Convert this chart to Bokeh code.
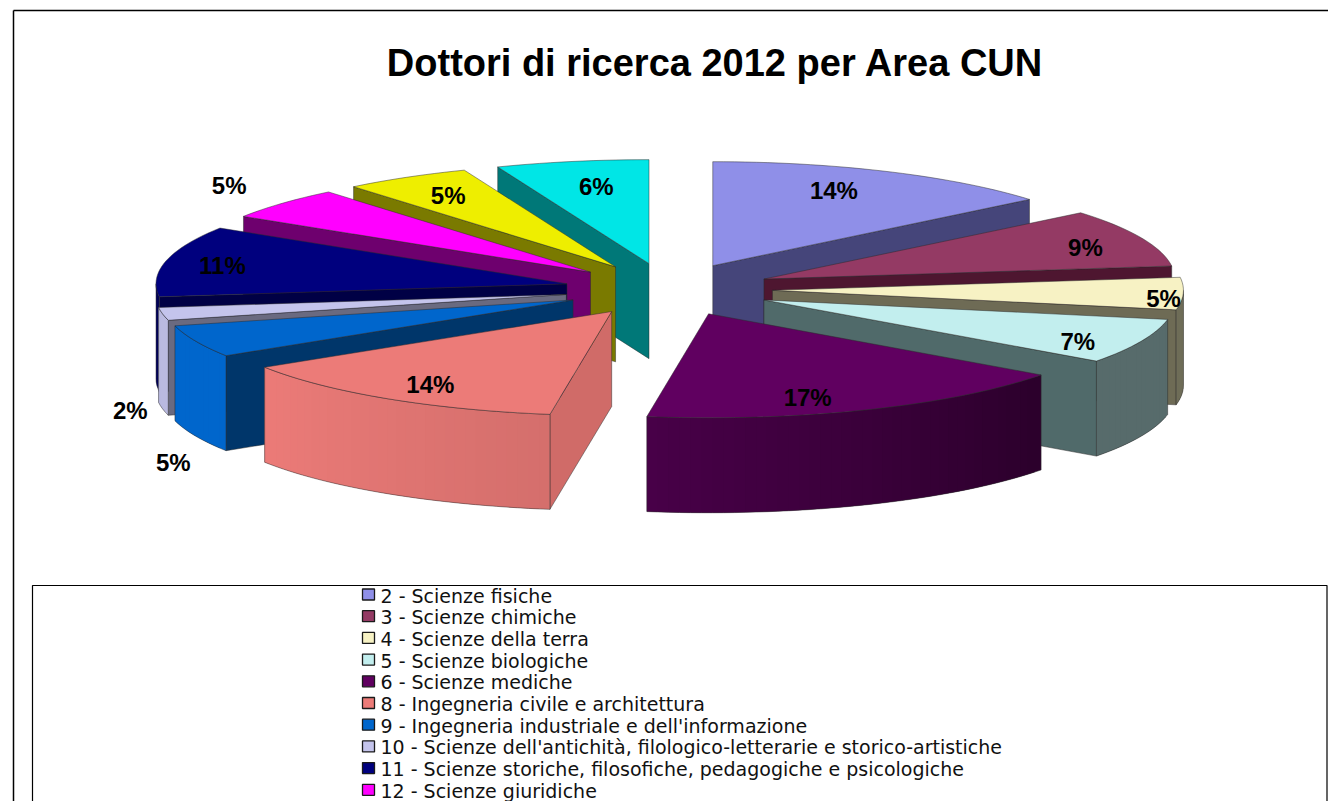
import numpy as np
from bokeh.plotting import figure
from bokeh.models import Range1d, ColumnDataSource
from bokeh.embed import file_html
from bokeh.resources import INLINE
from bokeh.core.properties import value

# ---------------- data ----------------
TITLE = "Dottori di ricerca 2012  per Area CUN"
CATEGORIES = [
    "2 - Scienze fisiche",
    "3 - Scienze chimiche",
    "4 - Scienze della terra",
    "5 - Scienze biologiche",
    "6 - Scienze mediche",
    "8 - Ingegneria civile e architettura",
    "9 - Ingegneria industriale e dell'informazione",
    "10 - Scienze dell'antichità, filologico-letterarie e storico-artistiche",
    "11 - Scienze storiche, filosofiche, pedagogiche e psicologiche",
    "12 - Scienze giuridiche",
    "13 - Scienze economiche e statistiche",
    "14 - Scienze politiche e sociali",
]
# shares in percent (labels show them rounded)
VALUES = [14, 9, 5, 7, 17.4, 13.6, 5, 2, 11, 5, 5, 6]

# ---------------- styles ----------------
TOP_COLORS = ["#8f8fe8", "#943a64", "#f7f2c4", "#c2eeee", "#600060", "#ec7b78",
              "#0066cc", "#c4c4ec", "#00007e", "#ff00ff", "#eeee00", "#00e6e6"]
SIDE_COLORS = ["#45457a", "#4e1630", "#6e6b55", "#506a6a", "#300030", "#d06b68",
               "#00366a", "#6a6a80", "#000045", "#6e006e", "#7a7a00", "#007878"]
OUTER_SHADE = [(0.5, 0.5), (0.5, 0.5), (0.45, 0.45), (0.45, 0.45), (0.45, 0.75),
               (0.9, 1.0), (1.0, 1.0), (0.95, 0.95), (0.7, 0.7), (0.5, 0.5),
               (0.5, 0.5), (0.5, 0.5)]
LABEL_R = [0.78, 0.84, 0.955, 0.86, 0.84, 0.83, 1.06, 1.08, 0.856, 1.21, 0.8, 0.753]
LABEL_DANG = [-3, 2, 3, 4, 6, -1, 0, 0, -1, 2, 0, 1]
LABEL_DROP = [0, 0, 0, 0, 0, 0, 1.25, 1.0, 0, 0, 0, 0]

W, H = 1328, 801
CX, CY = 668, 289
RX, RY = 411, 104
DEPTH = 95
EXPLODE = 104
K = RY / RX
FONT = "Liberation Sans"


def hex2rgb(h):
    h = h.lstrip("#")
    return tuple(int(h[i:i + 2], 16) for i in (0, 2, 4))


def shade(h, f):
    r, g, b = hex2rgb(h)
    return "#%02x%02x%02x" % tuple(int(max(0, min(255, round(c * f)))) for c in (r, g, b))


p = figure(width=W, height=H, x_range=Range1d(0, W), y_range=Range1d(H, 0),
           x_axis_type=None, y_axis_type=None, toolbar_location=None,
           output_backend="svg", min_border=0, background_fill_color="white",
           border_fill_color="white")
p.outline_line_color = None
p.grid.visible = False

# frame lines
p.segment(x0=[13, 13], y0=[10, 10], x1=[W, 13], y1=[10, H],
          line_color="black", line_width=1.5)

# ---------------- pie geometry ----------------
total = float(sum(VALUES))
cum = np.concatenate([[0.0], np.cumsum(VALUES)]) / total * 360.0
rad = np.deg2rad

polys = dict(xs=[], ys=[], fc=[], fa=[], lc=[], lw=[], la=[])


def add(xs, ys, fc, fa, lc, lw, la):
    polys["xs"].append([float(a) for a in xs])
    polys["ys"].append([float(a) for a in ys])
    polys["fc"].append(fc)
    polys["fa"].append(fa)
    polys["lc"].append(lc)
    polys["lw"].append(lw)
    polys["la"].append(la)


info = []
for i, v in enumerate(VALUES):
    a0, a1 = cum[i], cum[i + 1]
    am = (a0 + a1) / 2
    ox = CX + EXPLODE * np.sin(rad(am))
    oy = CY - EXPLODE * K * np.cos(rad(am))
    info.append((a0, a1, am, ox, oy))

order = sorted(range(len(VALUES)), key=lambda i: -np.cos(rad(info[i][2])))
EDGE = "#2a2a2a"

for i in order:
    a0, a1, am, ox, oy = info[i]
    top = TOP_COLORS[i]
    # radial faces
    for ang, vis in ((a0, -np.sin(rad(a0)) > 1e-6), (a1, np.sin(rad(a1)) > 1e-6)):
        if vis:
            px = ox + RX * np.sin(rad(ang))
            py = oy - RY * np.cos(rad(ang))
            add([ox, px, px, ox], [oy, py, py + DEPTH, oy + DEPTH],
                SIDE_COLORS[i], 1.0, EDGE, 0.6, 0.8)
    # outer curved side (front half), overlapping strips to hide seams
    lo, hi = max(a0, 90.0), min(a1, 270.0)
    if hi > lo:
        n = max(2, int((hi - lo) / 1.5))
        angs = np.linspace(lo, hi, n + 1)
        fa_, fb_ = OUTER_SHADE[i]
        for j in range(n):
            t = (j + 0.5) / n
            f = fa_ + (fb_ - fa_) * t
            c = shade(top, f)
            s0, s1 = angs[j], angs[min(j + 2, n)]
            x_a = ox + RX * np.sin(rad(s0)); y_a = oy - RY * np.cos(rad(s0))
            x_b = ox + RX * np.sin(rad(s1)); y_b = oy - RY * np.cos(rad(s1))
            add([x_a, x_b, x_b, x_a], [y_a, y_b, y_b + DEPTH, y_a + DEPTH],
                c, 1.0, c, 0.0, 0.0)
        ax = ox + RX * np.sin(rad(angs))
        ay = oy - RY * np.cos(rad(angs))
        add(list(ax) + list(ax[::-1]), list(ay) + list((ay + DEPTH)[::-1]),
            top, 0.0, EDGE, 0.6, 0.8)
    # top face
    angs = np.linspace(a0, a1, max(3, int((a1 - a0) / 1.5)) + 1)
    tx = [ox] + list(ox + RX * np.sin(rad(angs)))
    ty = [oy] + list(oy - RY * np.cos(rad(angs)))
    add(tx, ty, top, 1.0, EDGE, 0.6, 0.8)

src = ColumnDataSource(polys)
p.patches("xs", "ys", source=src, fill_color="fc", fill_alpha="fa",
          line_color="lc", line_width="lw", line_alpha="la")

# ---------------- percentage labels ----------------
lx, ly, lt = [], [], []
for i, v in enumerate(VALUES):
    a0, a1, am, ox, oy = info[i]
    r = LABEL_R[i]
    la = am + LABEL_DANG[i]
    lx.append(ox + r * RX * np.sin(rad(la)))
    ly.append(oy - r * RY * np.cos(rad(la)) + LABEL_DROP[i] * DEPTH)
    lt.append("%d%%" % round(v / total * 100))
p.text(x=lx, y=ly, text=lt, text_align="center", text_baseline="middle",
       text_font=value(FONT), text_font_style="bold", text_font_size="24px",
       text_color="black")

# ---------------- title ----------------
p.text(x=[720], y=[62], text=[TITLE], text_align="center", text_baseline="middle",
       text_font=value(FONT), text_font_style="bold", text_font_size="38px",
       text_color="black")

# ---------------- legend ----------------
LEG_LEFT, LEG_RIGHT, LEG_TOP, LEG_BOTTOM = 32, 1326.5, 585, 801
p.quad(left=[LEG_LEFT], right=[LEG_RIGHT], top=[LEG_TOP], bottom=[LEG_BOTTOM],
       fill_alpha=0, line_color="black", line_width=1.2)
row0, step = 594, 21.7
sq_x, sq_y, sq_c, tx_x, tx_y, tx_t = [], [], [], [], [], []
for i, name in enumerate(CATEGORIES):
    y = row0 + i * step
    if y + 6 > H:
        break
    sq_x.append(368); sq_y.append(y); sq_c.append(TOP_COLORS[i])
    tx_x.append(380); tx_y.append(y + 1); tx_t.append(name)
p.rect(x=sq_x, y=sq_y, width=12, height=11, fill_color=sq_c, line_color="#1a1a1a",
       line_width=1.3)
p.text(x=tx_x, y=tx_y, text=tx_t, text_align="left", text_baseline="middle",
       text_font=value("DejaVu Sans"), text_font_size="19px", text_color="#111111")

open("out.html", "w").write(file_html(p, INLINE))
